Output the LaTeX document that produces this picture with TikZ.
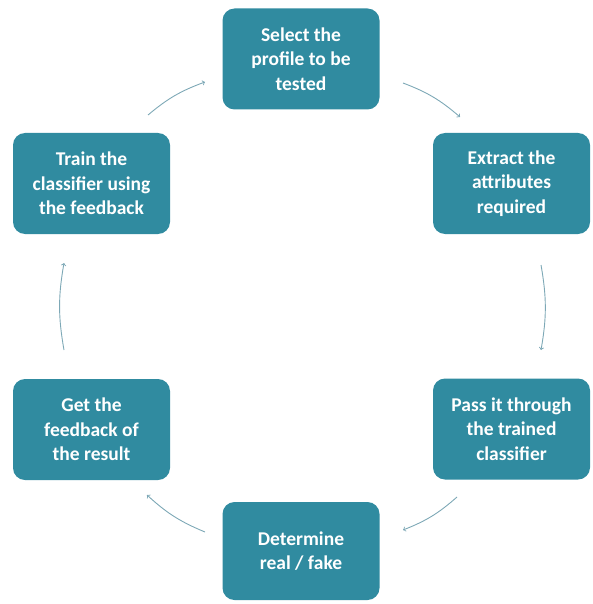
\documentclass[tikz,border=0pt]{standalone}
\usepackage{fontspec}
\setmainfont{Carlito}
\usepackage{tikz}
\definecolor{boxteal}{RGB}{48,139,160}
\definecolor{arrowteal}{RGB}{125,168,182}
\tikzset{%
    stage/.style={
		draw=none, fill=boxteal, rounded corners=12pt,
		minimum width=157pt, minimum height=101pt,
		text=white, align=center, font=\bfseries\fontsize{19.5}{24.5}\selectfont
	}
}
\tikzset{cycle/.style={draw=arrowteal, line width=0.9pt, ->, bend left=10}}

\begin{document}
\begin{tikzpicture}[x=1pt,y=1pt]
		\useasboundingbox (0,0) rectangle (592,-604);

		% The six steps, clockwise from the top
		\node[stage] (select) at (301,-59) {Select the\\profile to be\\tested};
		\node[stage] (train) at (91.5,-183.5) {Train the\\classifier using\\the feedback};
		\node[stage] (extract) at (511.5,-183.5) {Extract the\\attributes\\required};
		\node[stage] (feedback) at (91.5,-429.5) {Get the\\feedback of\\the result};
		\node[stage] (pass) at (511.5,-429) {Pass it through\\the trained\\classifier};
		\node[stage, minimum height=98pt] (determine) at (301,-551) {Determine\\real / fake};

		\coordinate (tlA) at (148,-115);	\coordinate (tlB) at (205,-82);		\coordinate (trA) at (403,-83);		\coordinate (trB) at (460,-117);
		\coordinate (lA) at (64,-350);											\coordinate (rA) at (541,-265);
		\coordinate (lB) at (64,-263);											\coordinate (rB) at (541,-350);
		\coordinate (blB) at (147,-495);	\coordinate (blA) at (205,-532);	\coordinate (brB) at (403,-530);	\coordinate (brA) at (457,-497);

		\draw[cycle] (trA) to (trB);
		\draw[cycle] (rA) to (rB);
		\draw[cycle] (brA) to (brB);
		\draw[cycle] (blA) to (blB);
		\draw[cycle] (lA) to (lB);
		\draw[cycle] (tlA) to (tlB);
	\end{tikzpicture}
\end{document}
